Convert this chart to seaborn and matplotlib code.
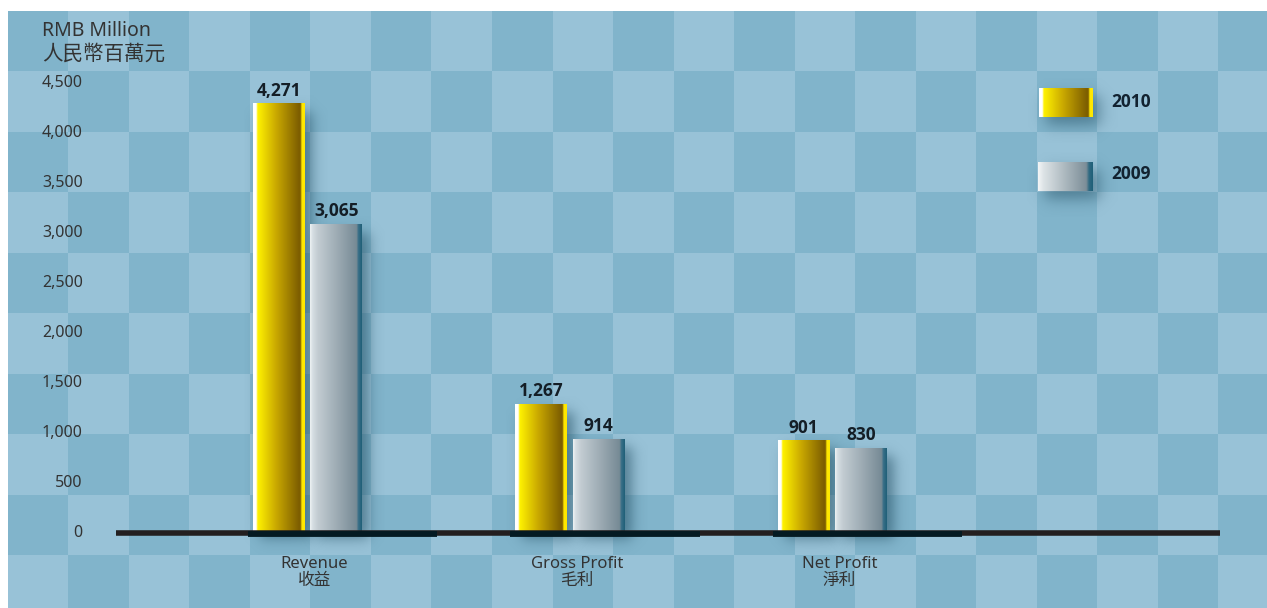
import numpy as np
import pandas as pd
import matplotlib
matplotlib.use("Agg")
import matplotlib.pyplot as plt
import matplotlib.transforms as mtransforms
import seaborn as sns
from matplotlib.colors import to_rgb

# ---------------- data ----------------
categories = ["Revenue\n收益", "Gross Profit\n毛利", "Net Profit\n淨利"]
years = ["2010", "2009"]
values_2010 = [4271, 1267, 901]
values_2009 = [3065, 914, 830]
y_ticks = [0, 500, 1000, 1500, 2000, 2500, 3000, 3500, 4000, 4500]
y_title = "RMB Million\n人民幣百萬元"

df = pd.DataFrame({
    "category": categories * 2,
    "year": [years[0]] * 3 + [years[1]] * 3,
    "value": values_2010 + values_2009,
})

FONT = ["Noto Sans", "Noto Sans CJK TC", "DejaVu Sans"]
BOLD = ["Open Sans", "Noto Sans CJK TC", "DejaVu Sans"]
plt.rcParams["font.family"] = FONT

W, H = 1267, 608
fig = plt.figure(figsize=(W / 100, H / 100), dpi=100)
fig.patch.set_facecolor("white")

# ---------------- checkerboard background (pixel coords) ----------------
bg = fig.add_axes([0, 0, 1, 1], zorder=0)
bg.axis("off")
cell = 60.5
cx0, cy0 = 8, 11
ncols = int(np.ceil((W - cx0) / cell))
nrows = int(np.ceil((H - cy0) / cell))
board = np.add.outer(np.arange(nrows), np.arange(ncols)) % 2
dark = np.array(to_rgb("#81b4cb"))
light = np.array(to_rgb("#98c2d7"))
img = np.where(board[..., None] == 0, dark, light)
bg.imshow(img, extent=[cx0, cx0 + ncols * cell, cy0 + nrows * cell, cy0],
          interpolation="nearest", aspect="auto", zorder=0)
bg.set_xlim(0, W)
bg.set_ylim(H, 0)

# ---------------- main axes ----------------
axL, axR = 116, 1220
y_zero = 531
ymax = 4500
px_per_unit = 0.1
ax = fig.add_axes([axL / W, (H - y_zero) / H, (axR - axL) / W, ymax * px_per_unit / H], zorder=2)
ax.patch.set_alpha(0)

gold_c = "#c9a800"
silver_c = "#a0adb5"
sns.barplot(data=df, x="category", y="value", hue="year", hue_order=years,
            order=categories, width=0.44, gap=0.1, palette=[gold_c, silver_c],
            saturation=1, ax=ax, legend=False)

span = (axR - axL) / 262.5
xl = -(307.5 - axL) / 262.5
ax.set_xlim(xl, xl + span)
ax.set_ylim(0, ymax)
for s in ax.spines.values():
    s.set_visible(False)
ax.set_xlabel("")
ax.set_ylabel("")
ax.set_yticks(y_ticks)
ax.set_yticklabels([f"{v:,}" for v in y_ticks])
ax.tick_params(axis="y", length=0, pad=24, labelsize=11.5, labelcolor="#333333")
ax.tick_params(axis="x", length=0, pad=18, labelsize=12, labelcolor="#333333")
for lbl in ax.get_xticklabels():
    lbl.set_linespacing(1.12)
    lbl.set_transform(lbl.get_transform() + mtransforms.ScaledTranslation(7 / 100, 0, fig.dpi_scale_trans))


def ramp(stops, n=300):
    pos = np.array([s[0] for s in stops])
    cols = np.array([to_rgb(s[1]) for s in stops])
    xs = np.linspace(0, 1, n)
    out = np.stack([np.interp(xs, pos, cols[:, k]) for k in range(3)], axis=-1)
    return out[None, :, :]


gold_grad = ramp([(0, "#ffffff"), (0.06, "#ffffff"), (0.09, "#fff200"),
                  (0.45, "#c9a800"), (0.90, "#7b5c00"), (0.92, "#8a6a00"),
                  (0.94, "#ffe800"), (1.0, "#ffe800")])
silver_grad = ramp([(0, "#eef2f4"), (0.05, "#d6dee3"), (0.15, "#c3ccd2"),
                    (0.90, "#768a95"), (0.93, "#3a7088"), (1.0, "#1f5f78")])

fig.canvas.draw()


def shadow(axb, x0, x1, yt, yb, dx=7, dy=8, sig=4.0, col="#1b465a", amax=0.55):
    """blurred drop shadow in pixel coords (y downward)"""
    pad = 4 * sig
    L, R = x0 + dx - pad, x1 + dx + pad
    T, B = yt + dy - pad, yb + dy + pad
    xs = np.linspace(L, R, 200)
    ys = np.linspace(T, B, 200)
    fx = 1 / (1 + np.exp(-(xs - (x0 + dx)) / sig)) - 1 / (1 + np.exp(-(xs - (x1 + dx)) / sig))
    fy = 1 / (1 + np.exp(-(ys - (yt + dy)) / sig)) - 1 / (1 + np.exp(-(ys - (yb + dy)) / sig))
    a = np.outer(fy, fx) * amax
    rgba = np.zeros(a.shape + (4,))
    rgba[..., :3] = to_rgb(col)
    rgba[..., 3] = a
    axb.imshow(rgba, extent=[L, R, B, T], aspect="auto", zorder=1, interpolation="bilinear")


for cont, grad in zip(ax.containers, [gold_grad, silver_grad]):
    for p in cont.patches:
        x0, w, h = p.get_x(), p.get_width(), p.get_height()
        ax.imshow(grad, extent=[x0, x0 + w, 0, h], aspect="auto", zorder=3, interpolation="bilinear")
        p.set_visible(False)
        (dx0, dy0) = ax.transData.transform((x0, 0))
        (dx1, dy1) = ax.transData.transform((x0 + w, h))
        shadow(bg, dx0, dx1, H - dy1, H - dy0)

ax.set_xlim(xl, xl + span)
ax.set_ylim(0, ymax)

# value labels
for cont in ax.containers:
    ax.bar_label(cont, labels=[f"{v:,.0f}" for v in cont.datavalues], padding=3,
                 fontsize=12.5, fontweight="bold", family=BOLD, color="#141e26", zorder=6)

# baseline
base_tr = mtransforms.offset_copy(ax.get_yaxis_transform(), fig=fig, x=0, y=-2, units="dots")
ax.plot([0, 1], [0, 0], color="#231f20", lw=4, transform=base_tr, zorder=5,
        solid_capstyle="butt", clip_on=False)
seg_tr = mtransforms.offset_copy(ax.transData, fig=fig, x=0, y=-2.5, units="dots")
for i in range(len(categories)):
    ax.plot([i - 0.228, i + 0.495], [0, 0], color="#041a22", lw=4.2, transform=seg_tr,
            zorder=5, solid_capstyle="butt", clip_on=False)

# y title
t1, t2 = y_title.split("\n")
bg.text(42, 31, t1, fontsize=14, color="#333333", va="center", ha="left", zorder=5)
bg.text(42, 55, t2, fontsize=14.8, color="#333333", va="center", ha="left", zorder=5)

# legend
leg = [(years[0], gold_grad, 1039, 1093, 88, 117, 102),
       (years[1], ramp([(0, "#f4f6f7"), (0.10, "#dde3e6"), (0.88, "#7c8e98"),
                        (0.93, "#2f6a82"), (1.0, "#1f5f78")]), 1038, 1093, 162, 191, 174)]
for name, grad, lx0, lx1, lyt, lyb, ty in leg:
    shadow(bg, lx0, lx1, lyt, lyb, dx=7, dy=8, sig=4.5, amax=0.5)
    bg.imshow(grad, extent=[lx0, lx1, lyb, lyt], aspect="auto", zorder=3, interpolation="bilinear")
    bg.text(1111, ty, name, fontsize=12.5, fontweight="bold", family=BOLD, color="#122230",
            va="center", ha="left", zorder=5)

bg.set_xlim(0, W)
bg.set_ylim(H, 0)

fig.savefig("out.png", dpi=100, facecolor="white")
